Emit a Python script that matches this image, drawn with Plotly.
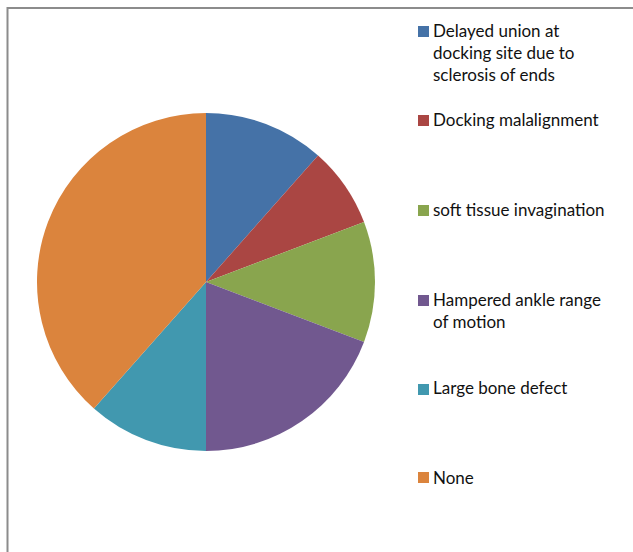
import plotly.graph_objects as go

W, H = 633, 552

labels = [
    "Delayed union at docking site due to sclerosis of ends",
    "Docking malalignment",
    "soft tissue invagination",
    "Hampered ankle range of motion",
    "Large bone defect",
    "None",
]
legend_text = [
    "Delayed union at<br>docking site due to<br>sclerosis of ends",
    "Docking malalignment",
    "soft tissue invagination",
    "Hampered ankle range<br>of motion",
    "Large bone defect",
    "None",
]
values = [3, 2, 3, 5, 3, 10]
colors = ["#4572A7", "#AA4643", "#89A54E", "#71588F", "#4198AF", "#DB843D"]

# legend layout (pixel centres of each legend block)
legend_y_px = [53, 119.5, 209.5, 310, 387.5, 477]
legend_sq_px = [31.5, 120.5, 210.5, 300.5, 389.5, 477.5]

fig = go.Figure()
fig.add_trace(go.Pie(
    labels=labels,
    values=values,
    marker=dict(colors=colors, line=dict(width=0)),
    sort=False,
    direction="clockwise",
    rotation=0,
    textinfo="none",
    hoverinfo="label+value+percent",
    showlegend=False,
    domain=dict(x=[37 / W, 375 / W], y=[(H - 451) / H, (H - 113) / H]),
))

shapes = [
    dict(type="rect", xref="paper", yref="paper",
         x0=7.5 / W, x1=1.2, y0=-0.2, y1=1 - 8 / H,
         line=dict(color="#8c8c8c", width=2), fillcolor="rgba(0,0,0,0)")
]
annotations = []
for txt, col, ty, sy in zip(legend_text, colors, legend_y_px, legend_sq_px):
    shapes.append(dict(type="rect", xref="paper", yref="paper",
                       x0=418 / W, x1=429 / W,
                       y0=1 - (sy + 5.5) / H, y1=1 - (sy - 5.5) / H,
                       line=dict(width=0), fillcolor=col))
    annotations.append(dict(xref="paper", yref="paper", x=431 / W, y=1 - ty / H,
                            xanchor="left", yanchor="middle", align="left",
                            showarrow=False, text=txt,
                            font=dict(family="Lato", size=17, color="#111111")))

fig.update_layout(
    width=W, height=H,
    margin=dict(l=0, r=0, t=0, b=0),
    paper_bgcolor="white",
    plot_bgcolor="white",
    shapes=shapes,
    annotations=annotations,
)

fig.write_html("out.html")
